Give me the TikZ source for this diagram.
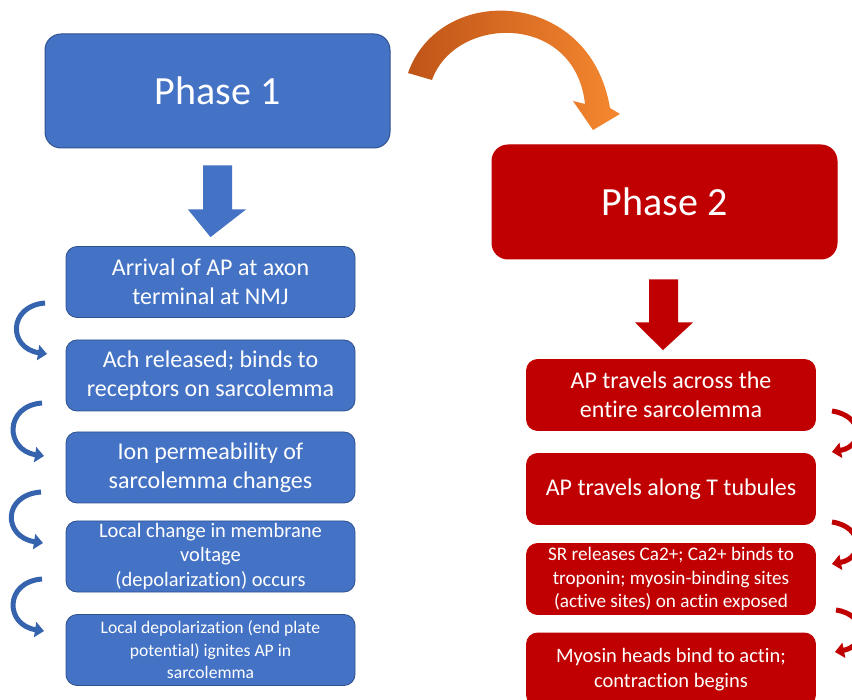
\documentclass[tikz,border=0pt]{standalone}
\usepackage{fontspec}
\setmainfont[Ligatures=NoCommon]{Carlito}
\usetikzlibrary{arrows.meta,calc}
\definecolor{blueF}{HTML}{4472C4}
\definecolor{blueD}{HTML}{2F528F}
\definecolor{blueC}{HTML}{3563AE}
\definecolor{redF}{HTML}{C00000}
\definecolor{orA}{HTML}{BF5418}
\definecolor{orB}{HTML}{F5882F}
\tikzset{
  phase/.style={rounded corners=16, minimum width=345, minimum height=114, text=white, inner sep=0,
    font=\fontsize{40}{48}\selectfont},
  bluephase/.style={phase, fill=blueF, draw=blueD, line width=1},
  redphase/.style={phase, fill=redF, draw=redF, line width=1},
  stepbox/.style={rounded corners=11, minimum width=289, minimum height=71, text=white, inner sep=0,
    align=center, font=\fontsize{24}{29}\selectfont},
  bluestep/.style={stepbox, fill=blueF, draw=blueD, line width=0.8},
  redstep/.style={stepbox, fill=redF, draw=redF, line width=0.8},
  small/.style={font=\fontsize{20.5}{24.5}\selectfont},
  smaller/.style={font=\fontsize{19.2}{23.8}\selectfont},
  tiny/.style={font=\fontsize{17.6}{22.5}\selectfont},
  bcurl/.style={draw=blueC, line width=5, -{Triangle[length=9,width=15]}},
  rcurl/.style={draw=redF, line width=5, -{Triangle[length=9,width=15]}},
}
\begin{document}
\begin{tikzpicture}[x=1pt,y=-1pt]
\useasboundingbox (0,0) rectangle (852,700);

% phases
\node[bluephase] (p1) at (217.5,91) {Phase 1};
\node[redphase] (p2) at (664.5,202) {Phase 2};

% left steps
\node[bluestep] (l1) at (210.5,282) {Arrival of AP at axon\\terminal at NMJ};
\node[bluestep] (l2) at (210.5,375.5) {Ach released; binds to\\receptors on sarcolemma};
\node[bluestep] (l3) at (210.5,467.5) {Ion permeability of\\sarcolemma changes};
\node[bluestep, small] (l4) at (210.5,556.5) {Local change in membrane\\voltage\\(depolarization) occurs};
\node[bluestep, tiny] (l5) at (210.5,650) {Local depolarization (end plate\\potential) ignites AP in\\sarcolemma};

% right steps
\node[redstep] (r1) at (671,395) {AP travels across the\\entire sarcolemma};
\node[redstep] (r2) at (671,489) {AP travels along T tubules};
\node[redstep, smaller] (r3) at (671,579) {SR releases Ca2+; Ca2+ binds to\\troponin; myosin-binding sites\\(active sites) on actin exposed};
\node[redstep, small, minimum height=73] (r4) at (671,669.5) {Myosin heads bind to actin;\\contraction begins};

% block arrows
\fill[blueF] ($(p1.south)+(-14.5,17)$) coordinate (ba1) -- ++(29,0) -- ++(0,44) -- ++(14,0)
  -- ($(l1.north)+(0,-9)$) coordinate (ba2) -- ($(ba1)+(-15,44)$) -- ($(ba1)+(0,44)$) -- cycle;
\fill[redF] ($(p2.south)+(-15.5,20)$) coordinate (bb1) -- ++(29,0) -- ++(0,43) -- ++(15,0)
  -- ($(r1.north)+(-8,-9)$) coordinate (bb2) -- ($(bb1)+(-14,43)$) -- ($(bb1)+(0,43)$) -- cycle;

% orange curved arrow
\coordinate (o1) at (408,73);
\coordinate (o2) at (432,80);
\shade[left color=orA, right color=orB]
  (o1) .. controls (440,-18) and (590,-12) .. (610,108) -- (620,114) -- (593,130) -- (573,101)
  -- (585,104) .. controls (575,12) and (455,15) .. (o2) -- cycle;

% left curls
\coordinate (c1a) at (45,303); \coordinate (c1b) at (47,354);
\coordinate (c2a) at (42,403); \coordinate (c2b) at (44,456);
\coordinate (c3a) at (41,492); \coordinate (c3b) at (43,543);
\coordinate (c4a) at (42,579); \coordinate (c4b) at (44,631);
\draw[bcurl] (c1a) .. controls (8,306) and (8,348) .. (c1b);
\draw[bcurl] (c2a) .. controls (4,406) and (5,450) .. (c2b);
\draw[bcurl] (c3a) .. controls (2,495) and (3,537) .. (c3b);
\draw[bcurl] (c4a) .. controls (4,582) and (5,625) .. (c4b);

% right curls
\coordinate (d1a) at (832,411); \coordinate (d1b) at (832,452);
\coordinate (d2a) at (832,522); \coordinate (d2b) at (832,564);
\coordinate (d3a) at (836,610); \coordinate (d3b) at (835,652);
\draw[rcurl] (d1a) .. controls (864,416) and (864,446) .. (d1b);
\draw[rcurl] (d2a) .. controls (864,527) and (864,558) .. (d2b);
\draw[rcurl] (d3a) .. controls (868,615) and (866,646) .. (d3b);
\end{tikzpicture}
\end{document}
